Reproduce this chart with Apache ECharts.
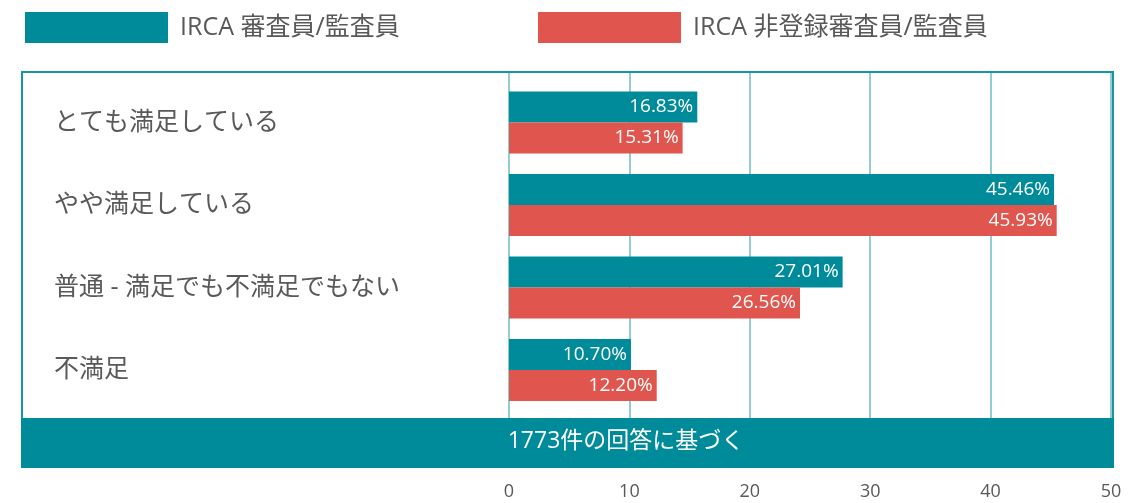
<!DOCTYPE html>
<html>
<head>
<meta charset="utf-8">
<script src="https://cdn.jsdelivr.net/npm/echarts@6/dist/echarts.min.js"></script>
<style>
html,body{margin:0;padding:0;background:#fff;}
#chart{width:1135px;height:503px;}
</style>
</head>
<body>
<div id="chart"></div>
<script>
// ---- data ----
const categories = ['とても満足している', 'やや満足している', '普通 - 満足でも不満足でもない', '不満足'];
const seriesNames = ['IRCA 審査員/監査員', 'IRCA 非登録審査員/監査員'];
// bar lengths as drawn in the picture
const registeredValues = [15.64, 45.27, 27.71, 10.13];
const nonRegisteredValues = [14.42, 45.49, 24.17, 12.27];
// printed labels
const registeredLabels = ['16.83%', '45.46%', '27.01%', '10.70%'];
const nonRegisteredLabels = ['15.31%', '45.93%', '26.56%', '12.20%'];
const axisTicks = [0, 10, 20, 30, 40, 50];
const footnote = '1773件の回答に基づく';

const TEAL = '#008B9A';
const RED = '#E0554D';
const GRAY = '#595959';
const FONT = "'Open Sans', 'Noto Sans CJK JP', sans-serif";

const chart = echarts.init(document.getElementById('chart'));

const labelCfg = (arr) => ({
  show: true,
  position: 'insideRight',
  distance: 4,
  color: '#fff',
  fontSize: 19,
  fontFamily: FONT,
  formatter: p => arr[p.dataIndex]
});

chart.setOption({
  animation: false,
  backgroundColor: '#fff',
  legend: [
    {
      left: 20, top: 7, itemWidth: 143, itemHeight: 31, selectedMode: false,
      icon: 'rect', data: [seriesNames[0]],
      textStyle: { color: GRAY, fontSize: 25, fontFamily: FONT, padding: [0, 0, 0, 7] }
    },
    {
      left: 533, top: 7, itemWidth: 143, itemHeight: 31, selectedMode: false,
      icon: 'rect', data: [seriesNames[1]],
      textStyle: { color: GRAY, fontSize: 25, fontFamily: FONT, padding: [0, 0, 0, 7] }
    }
  ],
  grid: [
    { left: 509, right: 24, top: 73, height: 345 },
    { left: 509, right: 24, top: 81.25, height: 330 }
  ],
  xAxis: [
    {
      gridIndex: 0, type: 'value', min: axisTicks[0], max: axisTicks[axisTicks.length - 1], interval: 10,
      axisLine: { show: false }, axisTick: { show: false },
      axisLabel: { color: GRAY, fontSize: 18, fontFamily: FONT, margin: 65 },
      splitLine: { show: true, lineStyle: { color: '#6fbcc5', width: 1.5 } }
    },
    {
      gridIndex: 1, type: 'value', min: axisTicks[0], max: axisTicks[axisTicks.length - 1], interval: 10,
      axisLine: { show: false }, axisTick: { show: false }, axisLabel: { show: false },
      splitLine: { show: false }
    }
  ],
  yAxis: [
    { gridIndex: 0, type: 'value', show: false, min: 0, max: 1 },
    {
      gridIndex: 1, type: 'category', data: categories, inverse: true,
      axisLine: { show: false }, axisTick: { show: false },
      axisLabel: { color: GRAY, fontSize: 25, fontFamily: FONT, align: 'left', margin: 455, padding: [5, 0, 0, 0] }
    }
  ],
  graphic: [
    {
      type: 'rect', z: 1, silent: true,
      shape: { x: 22, y: 72, width: 1091, height: 395 },
      style: { fill: 'none', stroke: '#1696a3', lineWidth: 2 }
    },
    {
      type: 'rect', z: 10, silent: true,
      shape: { x: 21, y: 418, width: 1093, height: 50 },
      style: { fill: TEAL }
    },
    {
      type: 'text', z: 11, silent: true, x: 626, y: 441,
      style: { text: footnote, fill: '#fff', fontSize: 23, fontFamily: FONT, align: 'center', verticalAlign: 'middle' }
    }
  ],
  series: [
    {
      name: seriesNames[0], type: 'bar', xAxisIndex: 1, yAxisIndex: 1,
      data: registeredValues, barWidth: 31, barGap: '0%',
      itemStyle: { color: TEAL }, label: labelCfg(registeredLabels), z: 5
    },
    {
      name: seriesNames[1], type: 'bar', xAxisIndex: 1, yAxisIndex: 1,
      data: nonRegisteredValues, barWidth: 31, barGap: '0%',
      itemStyle: { color: RED }, label: labelCfg(nonRegisteredLabels), z: 5
    }
  ]
});
</script>
</body>
</html>
